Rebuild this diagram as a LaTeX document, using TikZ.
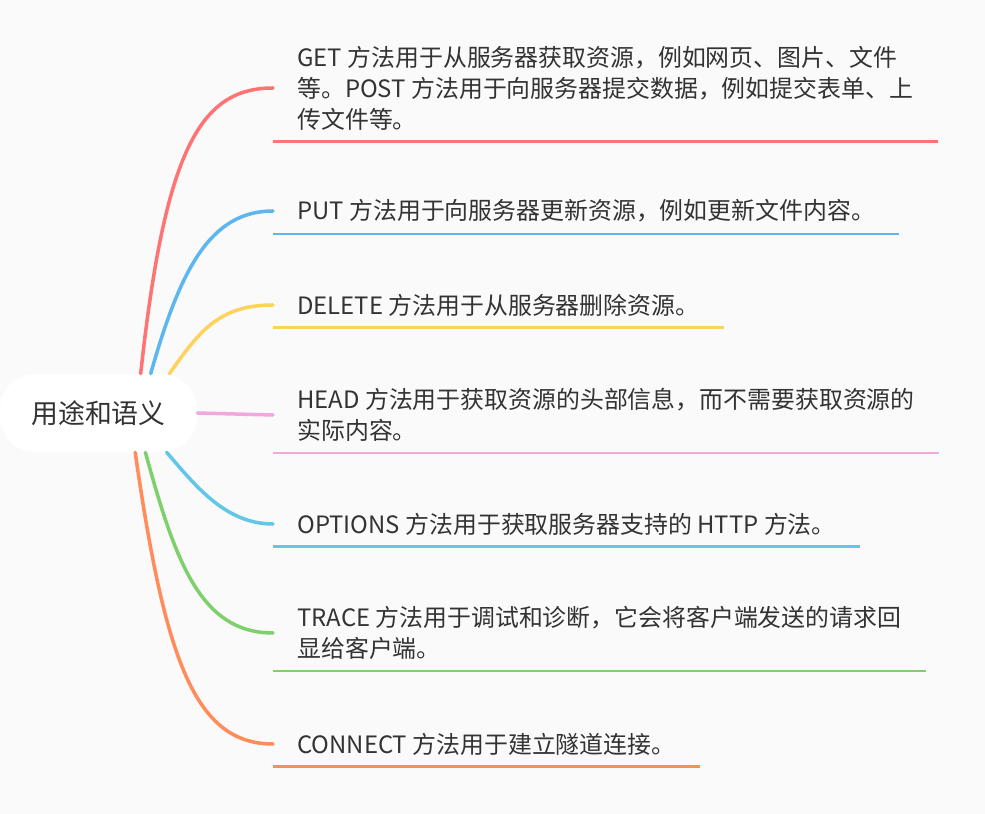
\documentclass[tikz,border=0pt]{standalone}
\usepackage{fontspec}
\setmainfont{Noto Sans CJK SC}
\definecolor{bgc}{HTML}{FAFAFA}
\definecolor{txt}{HTML}{333333}
\definecolor{cred}{HTML}{FF7373}
\definecolor{cblue}{HTML}{5CB6F0}
\definecolor{cyellow}{HTML}{FFD25E}
\definecolor{cpink}{HTML}{F0A8DF}
\definecolor{ccyan}{HTML}{62C6E6}
\definecolor{cgreen}{HTML}{7ED06C}
\definecolor{corange}{HTML}{FF8C5A}
\begin{document}
\begin{tikzpicture}[x=0.02cm,y=-0.02cm,
  topic/.style={fill=white,rounded corners=0.7cm,minimum width=3.94cm,minimum height=1.56cm,
    text=txt,font=\fontsize{15.3pt}{18pt}\selectfont},
  leaf/.style={anchor=west,align=left,inner xsep=0.48cm,inner ysep=0.22cm,
    text=txt,font=\fontsize{13.6pt}{17.6pt}\selectfont},
  branch/.style={line width=2pt,line cap=round},
  uline/.style={line width=1.4pt}]
\fill[bgc] (0,0) rectangle (985,814);

\node[topic] (root) at (98.5,413) {用途和语义};

\node[leaf] (get) at (273,88) {GET 方法用于从服务器获取资源，例如网页、图片、文件\\等。POST 方法用于向服务器提交数据，例如提交表单、上\\传文件等。};
\node[leaf] (put) at (273,211) {PUT 方法用于向服务器更新资源，例如更新文件内容。};
\node[leaf] (delete) at (273,305) {DELETE 方法用于从服务器删除资源。};
\node[leaf] (head) at (273,415) {HEAD 方法用于获取资源的头部信息，而不需要获取资源的\\实际内容。};
\node[leaf] (options) at (273,524) {OPTIONS 方法用于获取服务器支持的 HTTP 方法。};
\node[leaf] (trace) at (273,633) {TRACE 方法用于调试和诊断，它会将客户端发送的请求回\\显给客户端。};
\node[leaf] (connect) at (273,744) {CONNECT 方法用于建立隧道连接。};

% branches
\draw[branch,cred] (root.43) .. controls (165,150) and (200,88) .. (get.west);
\draw[branch,cblue] (root.37) .. controls (180,270) and (210,211) .. (put.west);
\draw[branch,cyellow] (root.29) .. controls (200,330) and (220,305) .. (delete.west);
\draw[branch,cpink] (root.east) -- (head.west);
\draw[branch,ccyan] (root.-30) .. controls (195,485) and (225,524) .. (options.west);
\draw[branch,cgreen] (root.-40) .. controls (175,560) and (200,633) .. (trace.west);
\draw[branch,corange] (root.-47) .. controls (165,660) and (195,744) .. (connect.west);

% underlines
\draw[uline,cred] (get.south west) -- (get.south east);
\draw[uline,cblue] (put.south west) -- (put.south east);
\draw[uline,cyellow] (delete.south west) -- (delete.south east);
\draw[uline,cpink] (head.south west) -- (head.south east);
\draw[uline,ccyan] (options.south west) -- (options.south east);
\draw[uline,cgreen] (trace.south west) -- (trace.south east);
\draw[uline,corange] (connect.south west) -- (connect.south east);
\end{tikzpicture}
\end{document}
